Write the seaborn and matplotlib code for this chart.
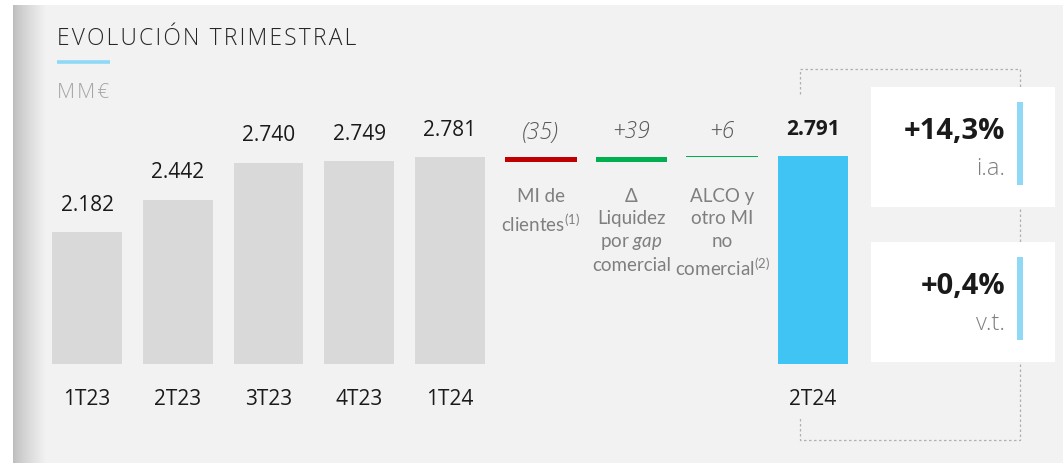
import numpy as np
import pandas as pd
import seaborn as sns
import matplotlib.pyplot as plt
from matplotlib.patches import Rectangle

# datos
periodos = ["1T23", "2T23", "3T23", "4T23", "1T24", "2T24"]
margen = [2182, 2442, 2740, 2749, 2781, 2791]
palancas = ["MI clientes", "Liquidez gap", "ALCO"]
variaciones = [-35, 39, 6]
var_textos = ["(35)", "+39", "+6"]
palanca_textos = [
    "MI de\nclientes$^{\\mathrm{(1)}}$",
    "\u0394\nLiquidez\npor $\\mathit{gap}$\ncomercial",
    "ALCO y\notro MI\nno\ncomercial$^{\\mathrm{(2)}}$",
]
kpi_valores = ["+14,3%", "+0,4%"]
kpi_textos = ["i.a.", "v.t."]

GRIS = "#d9d9d9"
AZUL = "#3fc4f4"
AZUL_CLARO = "#8fd9f7"
FONDO = "#f2f2f2"
var_colores = ["#c00000", "#00b050", "#00b050"]

sns.set_theme(style="white")
plt.rcParams["font.family"] = ["Open Sans", "DejaVu Sans"]
plt.rcParams["mathtext.fontset"] = "custom"
plt.rcParams["mathtext.rm"] = "Lato"
plt.rcParams["mathtext.it"] = "Lato:italic"

W, H = 1063, 463
fig = plt.figure(figsize=(W / 100, H / 100), dpi=100)
fig.patch.set_facecolor("white")

# fondo y decoracion en coordenadas de pixel
bg = fig.add_axes([0, 0, 1, 1], zorder=0)
bg.set_xlim(0, W)
bg.set_ylim(H, 0)
bg.axis("off")
bg.add_patch(Rectangle((13, 5), W - 13, H - 5, color=FONDO, lw=0))
grad = np.linspace(0, 1, 64)[None, :] ** 0.8
bg.imshow(grad, extent=(13, 46, H, 5), cmap=sns.blend_palette(["#bdbdbd", FONDO], as_cmap=True),
          aspect="auto", zorder=1)

titulo = "\u200a".join("EVOLUCIÓN TRIMESTRAL")
bg.text(57, 45, titulo, fontsize=16.4, fontweight="light", color="#262626",
        va="baseline", ha="left", family=["Open Sans", "DejaVu Sans"])
bg.plot([57, 110], [61.5, 61.5], color=AZUL_CLARO, lw=2.6, solid_capstyle="butt")
bg.text(57, 98, "\u200a".join("MM€"), fontsize=15, fontweight="light", color="#a6a6a6",
        va="baseline", family=["Open Sans", "DejaVu Sans"])

# corchete punteado
bx = [800, 800, 1020, 1020, 800, 800]
by = [94, 69, 69, 440, 440, 417]
bg.plot(bx, by, color="#b0b0b0", lw=0.9, ls=(0, (2, 2)), zorder=2)

# cajas de variacion
for i, (val, txt) in enumerate(zip(kpi_valores, kpi_textos)):
    top = 87 + i * 155
    bg.add_patch(Rectangle((871, top), 184, 120, color="white", lw=0, zorder=3))
    bg.add_patch(Rectangle((1017, top + 15), 6, 83, color=AZUL_CLARO, lw=0, zorder=4))
    bg.text(1005, top + 52, val, fontsize=21, fontweight="bold", color="#1a1a1a",
            ha="right", va="baseline", zorder=5)
    bg.text(1005, top + 88, txt, fontsize=17, fontweight="light", color="#7f7f7f",
            ha="right", va="baseline", zorder=5)

# grafico principal
orden = periodos[:5] + palancas + periodos[5:]
df = pd.DataFrame({"periodo": periodos, "valor": margen})
paleta = {p: GRIS for p in periodos}
paleta["2T24"] = AZUL

x0, paso = 87, 90.75
ax = fig.add_axes([(x0 - paso / 2) / W, (H - 364) / H, 9 * paso / W, 264 / H], zorder=1)
ax.patch.set_alpha(0)
sns.barplot(data=df, x="periodo", y="valor", hue="periodo", palette=paleta, order=orden,
            legend=False, width=0.77, saturation=1, linewidth=0, ax=ax)
ax.set_xlim(-0.5, 8.5)
ax.set_ylim(1130, 3240)

# etiquetas de valor
for p, v in zip(periodos, margen):
    i = orden.index(p)
    txt = f"{v:,}".replace(",", ".")
    ax.annotate(txt, (i, v), xytext=(0, 12), textcoords="offset points", ha="center",
                va="bottom", fontsize=15, color="#1a1a1a",
                fontweight="bold" if p == "2T24" else "normal")

# cascada
nivel = margen[4]
for k, (pal, d) in enumerate(zip(palancas, variaciones)):
    i = orden.index(pal)
    base = nivel + min(d, 0)
    ax.bar(i, abs(d), bottom=base, width=0.79, color=var_colores[k], lw=0)
    ax.annotate(var_textos[k], (i, nivel + max(d, 0)), xytext=(0, 9), textcoords="offset points",
                ha="center", va="bottom", fontsize=16.5, fontstyle="italic",
                fontweight="light", color="#595959")
    ax.text(i, 0.665, palanca_textos[k], transform=ax.get_xaxis_transform(), ha="center",
            va="top", fontsize=13.5, color="#7f7f7f", linespacing=1.36,
            family=["Lato", "DejaVu Sans"])
    nivel += d

ax.set_xticks(range(len(orden)))
ax.set_xticklabels([o if o in periodos else "" for o in orden], fontsize=15, color="#1a1a1a")
ax.tick_params(axis="x", length=0, pad=18)
ax.set_yticks([])
ax.set_xlabel("")
ax.set_ylabel("")
sns.despine(ax=ax, left=True, bottom=True)

fig.savefig("out.png", dpi=100)
